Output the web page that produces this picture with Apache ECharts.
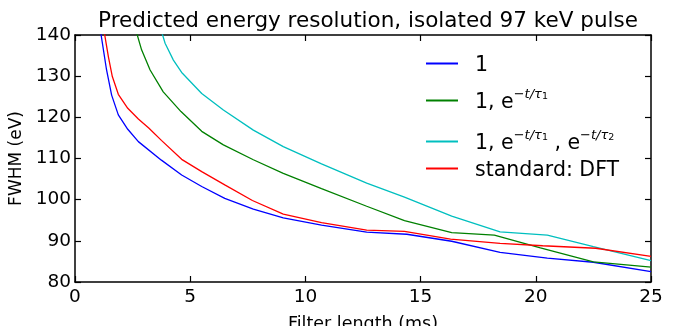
<!DOCTYPE html>
<html lang="en" style="height: 100%">
<head>
    <meta charset="utf-8">
</head>
<body style="height: 100%; margin: 0; background: #fff">
<div id="container" style="width: 676px; height: 326px"></div>

<script type="text/javascript" src="https://cdn.jsdelivr.net/npm/echarts@6/dist/echarts.min.js"></script>
<script type="text/javascript">
    // data: [filter length (ms), FWHM (eV)]
    var seriesNames = ['1', '1, e^-t/tau1', '1, e^-t/tau1, e^-t/tau2', 'standard: DFT'];
    var seriesColors = ['#0000ff', '#008000', '#00bfbf', '#ff0000'];

    var flat = [
        [1.05, 143], [1.37, 131.5], [1.59, 125.4], [1.88, 120.6], [2.29, 117.1],
        [2.75, 114.1], [3.75, 109.6], [4.63, 106.0], [5.5, 103.2], [6.5, 100.3],
        [7.74, 97.7], [9.04, 95.6], [10.7, 93.8], [12.66, 92.1], [14.4, 91.6],
        [16.35, 89.9], [18.45, 87.2], [20.5, 85.8], [22.5, 84.8], [25, 82.5]
    ];
    var oneExp = [
        [2.65, 141], [2.89, 136.4], [3.26, 131.5], [3.83, 126.2], [4.6, 121.4],
        [5.5, 116.6], [6.44, 113.3], [7.74, 109.7], [9.04, 106.4], [10.7, 102.7],
        [12.66, 98.4], [14.3, 94.9], [16.35, 92.0], [18.2, 91.4], [20.2, 88.3],
        [22.5, 84.9], [25, 83.6]
    ];
    var twoExp = [
        [3.75, 141], [3.91, 138], [4.27, 133.9], [4.63, 130.9], [5.5, 125.8],
        [6.44, 121.8], [7.74, 116.9], [9.04, 112.9], [10.7, 108.7], [12.66, 104.0],
        [14.3, 100.6], [16.35, 96.0], [18.45, 92.2], [20.5, 91.4], [22.5, 88.6],
        [25, 85.2]
    ];
    var dft = [
        [1.2, 143], [1.45, 134.7], [1.62, 129.9], [1.88, 125.6], [2.29, 122.2],
        [2.75, 119.6], [3.2, 117.4], [3.75, 114.4], [4.63, 109.8], [5.5, 106.8],
        [6.5, 103.6], [7.7, 99.8], [9.04, 96.5], [10.7, 94.4], [12.66, 92.6],
        [14.3, 92.3], [16.3, 90.4], [18.45, 89.4], [20.3, 88.8], [22.6, 88.2],
        [25, 86.2]
    ];
    var seriesData = [flat, oneExp, twoExp, dft];

    var font = 'DejaVu Sans';

    // legend labels with superscripts
    var legendText = {};
    legendText[seriesNames[0]] = '{b|1}';
    legendText[seriesNames[1]] = '{b|1, e}{s|\u2212t/\u03c4}{u|1}';
    legendText[seriesNames[2]] = '{b|1, e}{s|\u2212t/\u03c4}{u|1}{b| , e}{s|\u2212t/\u03c4}{u|2}';
    legendText[seriesNames[3]] = '{b|standard: DFT}';

    var legendTops = [50, 83, 124, 155];
    var legends = seriesNames.map(function (name, i) {
        return {
            data: [name],
            left: 421,
            top: legendTops[i],
            icon: 'rect',
            itemWidth: 32,
            itemHeight: 2,
            formatter: function (n) { return legendText[n]; },
            textStyle: {
                padding: [0, 0, 0, 12],
                rich: {
                    b: { fontFamily: font, fontSize: 20.5, color: '#000', verticalAlign: 'bottom', lineHeight: 25 },
                    s: { fontFamily: font, fontSize: 13, fontStyle: 'italic', color: '#000', verticalAlign: 'top', lineHeight: 25, padding: [0, 0, 10, 0] },
                    u: { fontFamily: font, fontSize: 9.5, color: '#000', verticalAlign: 'top', lineHeight: 25, padding: [4, 0, 0, 0] }
                }
            }
        };
    });

    var dom = document.getElementById('container');
    var myChart = echarts.init(dom, null, { renderer: 'canvas' });

    var axisLine = { show: true, onZero: false, lineStyle: { color: '#000', width: 1.5 } };
    var tick = { show: true, inside: true, length: 6, lineStyle: { color: '#000', width: 1.2 } };

    var option = {
        animation: false,
        backgroundColor: '#fff',
        title: {
            text: 'Predicted energy resolution, isolated 97 keV pulse',
            left: 363,
            textAlign: 'center',
            top: 5,
            textStyle: { fontFamily: font, fontSize: 21.5, fontWeight: 'normal', color: '#000' }
        },
        legend: legends,
        grid: { left: 75, right: 25, top: 35, bottom: 44, containLabel: false, outerBoundsMode: 'none' },
        xAxis: [
            {
                type: 'value', min: 0, max: 25, interval: 5,
                name: 'Filter length (ms)', nameLocation: 'middle', nameGap: 33,
                nameTextStyle: { fontFamily: font, fontSize: 17.5, color: '#000' },
                axisLine: axisLine, axisTick: tick,
                axisLabel: { fontFamily: font, fontSize: 18.5, color: '#000', margin: 6 },
                splitLine: { show: false }
            },
            {
                type: 'value', min: 0, max: 25, interval: 5, position: 'top',
                axisLine: axisLine, axisTick: tick,
                axisLabel: { show: false }, splitLine: { show: false }
            }
        ],
        yAxis: [
            {
                type: 'value', min: 80, max: 140, interval: 10,
                name: 'FWHM (eV)', nameLocation: 'middle', nameGap: 46,
                nameTextStyle: { fontFamily: font, fontSize: 17, color: '#000' },
                axisLine: axisLine, axisTick: tick,
                axisLabel: { fontFamily: font, fontSize: 18.5, color: '#000', margin: 4 },
                splitLine: { show: false }
            },
            {
                type: 'value', min: 80, max: 140, interval: 10, position: 'right',
                axisLine: axisLine, axisTick: tick,
                axisLabel: { show: false }, splitLine: { show: false }
            }
        ],
        series: seriesNames.map(function (name, i) {
            return {
                name: name,
                type: 'line',
                data: seriesData[i],
                symbol: 'none',
                clip: true,
                color: seriesColors[i],
                lineStyle: { width: 1.3, color: seriesColors[i] }
            };
        })
    };

    myChart.setOption(option);
    window.addEventListener('resize', myChart.resize);
</script>
</body>
</html>
